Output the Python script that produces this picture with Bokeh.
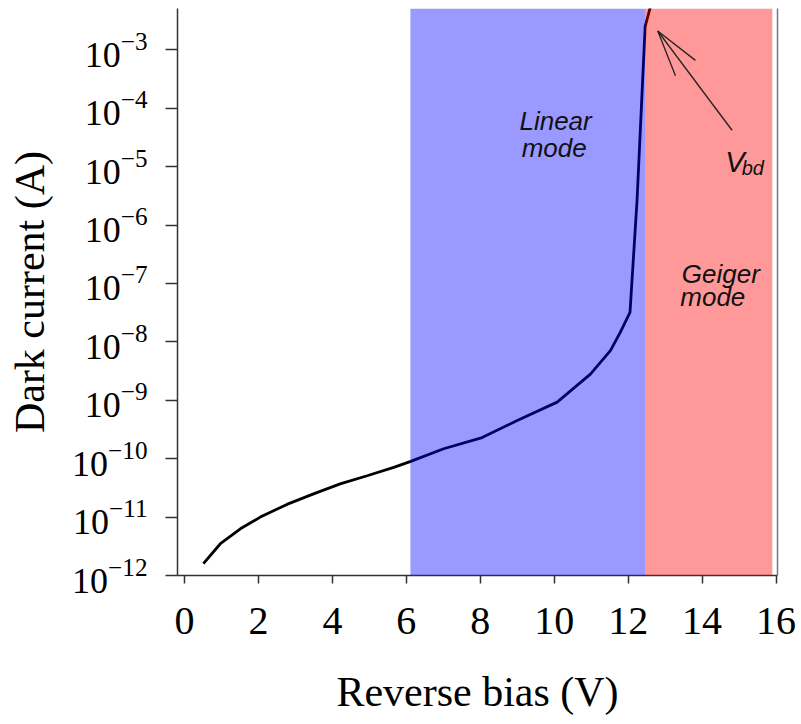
from bokeh.plotting import figure
from bokeh.models import BoxAnnotation, Label, Arrow, LinearAxis, FixedTicker
from bokeh.embed import file_html
from bokeh.resources import INLINE

# ---- data ----
bias_v = [0.51, 0.97, 1.51, 2.05, 2.77, 3.49, 4.21, 4.94, 5.66, 6.10, 7.01, 8.05,
          9.00, 10.08, 10.98, 11.52, 11.79, 12.05, 12.24, 12.46, 12.60]
dark_a = [1.6e-12, 3.5e-12, 6.3e-12, 1.0e-11, 1.65e-11, 2.5e-11, 3.7e-11, 5.1e-11,
          7.1e-11, 8.9e-11, 1.48e-10, 2.3e-10, 4.5e-10, 9.3e-10, 2.8e-9, 7.1e-9,
          1.47e-8, 3.2e-8, 2.6e-6, 2.5e-3, 5.4e-3]
x_ticks = [0, 2, 4, 6, 8, 10, 12, 14, 16]
y_ticks = [1e-12, 1e-11, 1e-10, 1e-9, 1e-8, 1e-7, 1e-6, 1e-5, 1e-4, 1e-3]
linear_mode = (6.11, 12.47)
geiger_mode = (12.47, 15.9)

SERIF = "Liberation Serif"
SANS = "Liberation Sans"

p = figure(width=800, height=722, x_range=(-0.19, 16.04), y_range=(1e-12, 5.1e-3),
           y_axis_type="log", output_backend="svg", toolbar_location=None,
           min_border_left=177, min_border_top=8, min_border_bottom=147,
           min_border_right=23)
p.xgrid.visible = False
p.ygrid.visible = False
p.outline_line_color = None
p.background_fill_color = "white"
p.border_fill_color = "white"

p.line(bias_v, dark_a, line_color="black", line_width=2.8)

p.add_layout(BoxAnnotation(left=linear_mode[0], right=linear_mode[1],
                           fill_color="#0000ff", fill_alpha=0.4, line_color=None))
p.add_layout(BoxAnnotation(left=geiger_mode[0], right=geiger_mode[1],
                           fill_color="#ff0000", fill_alpha=0.4, line_color=None))

# axes
xa = p.xaxis[0]
xa.ticker = FixedTicker(ticks=x_ticks)
xa.major_tick_out = 8
xa.major_tick_in = 0
xa.minor_tick_line_color = None
xa.axis_line_color = "#333333"
xa.major_tick_line_color = "#333333"
xa.axis_line_width = 1.5
xa.major_tick_line_width = 1.5
xa.major_label_text_font = SERIF
xa.major_label_text_font_size = "40px"
xa.major_label_text_color = "black"
xa.major_label_standoff = 24
xa.axis_label = "Reverse bias (V)"
xa.axis_label_text_font = SERIF
xa.axis_label_text_font_size = "42px"
xa.axis_label_text_font_style = "normal"
xa.axis_label_text_color = "black"
xa.axis_label_standoff = 32

ya = p.yaxis[0]
ya.ticker = FixedTicker(ticks=y_ticks)
ya.major_tick_out = 12
ya.major_tick_in = 0
ya.minor_tick_line_color = None
ya.axis_line_color = "#333333"
ya.major_tick_line_color = "#333333"
ya.axis_line_width = 1.5
ya.major_tick_line_width = 1.5
ya.major_label_text_font = SERIF
ya.major_label_text_font_size = "36px"
ya.major_label_text_color = "black"
ya.major_label_standoff = 18
ya.axis_label = "Dark current (A)"
ya.axis_label_text_font = SERIF
ya.axis_label_text_font_size = "42px"
ya.axis_label_text_font_style = "normal"
ya.axis_label_text_color = "black"
ya.axis_label_standoff = 16

ra = LinearAxis(ticker=FixedTicker(ticks=[]), major_tick_line_color=None,
                minor_tick_line_color=None, axis_line_color="#777777",
                axis_line_width=1.5)
p.add_layout(ra, "right")

# annotations
txt = dict(text_font=SANS, text_font_style="italic", text_color="#111111",
           text_font_size="26px", text_baseline="alphabetic")
p.add_layout(Label(x=9.06, y=6.0e-5, text="Linear", **txt))
p.add_layout(Label(x=9.12, y=2.1e-5, text="mode", **txt))
p.add_layout(Label(x=13.45, y=1.48e-7, text="Geiger", **txt))
p.add_layout(Label(x=13.41, y=5.8e-8, text="mode", **txt))
p.add_layout(Label(x=14.63, y=1.2e-5, text="V", text_font=SANS, text_font_style="italic",
                   text_color="#111111", text_font_size="29px", text_baseline="alphabetic"))
p.add_layout(Label(x=15.07, y=9.3e-6, text="bd", text_font=SANS, text_font_style="italic",
                   text_color="#111111", text_font_size="20px", text_baseline="alphabetic"))

arr = dict(end=None, line_color="#222222", line_width=1.3)
p.add_layout(Arrow(x_start=14.81, y_start=4.2e-5, x_end=12.80, y_end=2.1e-3, **arr))
p.add_layout(Arrow(x_start=12.80, y_start=2.1e-3, x_end=13.28, y_end=3.6e-4, **arr))
p.add_layout(Arrow(x_start=12.80, y_start=2.1e-3, x_end=13.82, y_end=6.6e-4, **arr))

open("out.html", "w").write(file_html(p, INLINE))
